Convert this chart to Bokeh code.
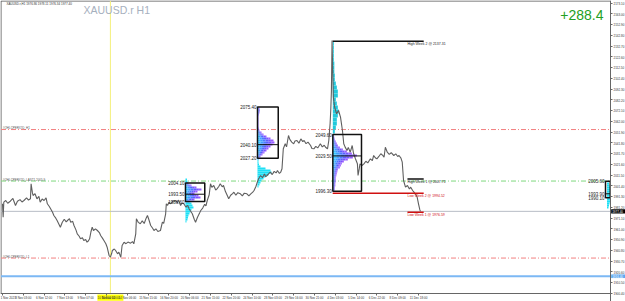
from bokeh.plotting import figure
from bokeh.models import (Range1d, LinearAxis, FixedTicker, Label,
                          ColumnDataSource, NumeralTickFormatter)
from bokeh.embed import file_html
from bokeh.resources import INLINE
from bokeh.core.properties import value

FONT = "Liberation Sans"

# ---------------- data ----------------
bar_index = [0, 1, 2, 5, 8, 12, 16, 20, 23, 27, 30, 33, 37, 40, 43, 44, 46, 47, 50, 53,
             56, 58, 61, 64, 67, 69, 72, 74, 77, 79, 82, 84, 87, 89, 92, 95, 98, 100, 103, 105,
             108, 110, 113, 115, 118, 120, 123, 125, 128, 130, 132, 134, 136, 138, 140, 143, 146, 149, 151, 154,
             156, 159, 161, 164, 166, 168, 169, 172, 174, 177, 179, 182, 184, 187, 190, 193, 197, 200, 202, 205,
             206, 209, 212, 215, 218, 221, 223, 225, 228, 231, 233, 236, 239, 243, 246, 248, 251, 252, 254, 256,
             259, 262, 266, 269, 271, 274, 276, 279, 282, 285, 287, 290, 292, 295, 297, 300, 303, 305, 308, 311,
             313, 315, 318, 320, 322, 325, 328, 330, 333, 335, 338, 340, 343, 346, 348, 351, 354, 356, 359, 362,
             366, 369, 372, 376, 379, 382, 385, 387, 390, 392, 394, 397, 400, 403, 405, 407, 410, 412, 415, 418,
             421, 423, 426, 428, 430, 432, 435, 437, 440, 442, 445, 448, 450, 453, 456, 459, 462, 464, 467, 470,
             474, 476, 479, 482, 485, 489, 492, 495, 497, 500, 502, 504, 505, 506, 507, 508, 509, 511, 514, 517,
             520, 523, 525, 527, 530, 532, 535, 538, 540, 543, 546, 547, 549, 550, 553, 556, 559, 562, 566, 569,
             571, 574, 576, 579, 582, 585, 587, 589, 592, 595, 598, 602, 605, 608, 610, 613, 615, 617, 620, 623,
             626, 628, 631, 633, 636, 638, 640, 642, 643]
close_price = [1984.5, 1971.9, 1986.0, 1987.6, 1985.0, 1986.9, 1989.5, 1982.9, 1986.9, 1988.4, 1986.2, 1987.6, 1990.0, 1988.0, 1989.2, 2003.3, 1995.0, 1992.3, 1994.0, 1989.2,
               1991.5, 1986.0, 1989.0, 1987.6, 1990.0, 1984.5, 1982.0, 1979.8, 1976.5, 1973.5, 1971.0, 1968.8, 1965.0, 1962.5, 1967.2, 1970.0, 1967.5, 1968.8, 1970.5, 1967.2,
               1968.0, 1964.1, 1960.0, 1956.3, 1954.0, 1951.6, 1952.5, 1950.0, 1951.0, 1948.4, 1949.5, 1951.6, 1958.0, 1962.5, 1959.4, 1961.0, 1959.4, 1957.5, 1954.7, 1952.0,
               1950.0, 1947.0, 1943.7, 1935.9, 1934.3, 1938.0, 1940.6, 1942.0, 1940.6, 1937.5, 1939.0, 1934.3, 1945.3, 1948.4, 1947.0, 1948.5, 1947.5, 1949.0, 1946.9, 1956.3,
               1970.4, 1967.0, 1965.7, 1968.5, 1966.0, 1971.0, 1973.5, 1970.0, 1964.1, 1961.5, 1959.4, 1961.0, 1958.5, 1959.4, 1967.2, 1966.0, 1975.1, 1984.5, 1983.0, 1986.0,
               1984.5, 1987.0, 1987.6, 1985.5, 1988.0, 1982.9, 1985.0, 1984.5, 1981.5, 1983.0, 1979.8, 1977.0, 1975.1, 1970.0, 1967.2, 1971.9, 1975.5, 1978.2, 1980.5, 1984.0,
               1982.5, 1987.6, 1993.0, 2003.3, 2000.0, 2001.7, 1997.5, 1998.6, 2001.0, 2003.3, 2000.5, 2001.7, 1996.0, 1992.0, 1989.2, 1992.5, 1994.0, 1995.4, 1992.5, 1995.0,
               1993.9, 1992.0, 1994.5, 1993.9, 1992.0, 1993.9, 1995.5, 1997.0, 2001.0, 2004.8, 2008.0, 2011.1, 2009.0, 2012.5, 2010.0, 2011.1, 2013.0, 2014.2, 2012.0, 2015.0,
               2013.5, 2015.8, 2013.0, 2014.2, 2017.4, 2036.2, 2040.9, 2038.0, 2048.7, 2045.0, 2042.5, 2040.9, 2043.5, 2044.0, 2041.5, 2045.5, 2043.0, 2044.0, 2041.0, 2042.5,
               2039.3, 2036.5, 2036.2, 2038.5, 2037.0, 2040.9, 2038.0, 2039.5, 2037.7, 2036.2, 2044.0, 2060.0, 2072.2, 2090.0, 2138.0, 2110.0, 2084.7, 2075.3, 2069.1, 2072.2,
               2065.9, 2053.4, 2040.9, 2038.0, 2034.6, 2037.5, 2033.0, 2039.3, 2032.0, 2026.8, 2022.1, 2011.1, 2018.0, 2022.1, 2020.5, 2022.1, 2024.5, 2023.0, 2026.8, 2025.0,
               2029.9, 2027.5, 2026.8, 2029.0, 2031.5, 2030.0, 2028.3, 2037.7, 2033.0, 2031.0, 2032.5, 2029.9, 2031.5, 2029.0, 2029.9, 2027.5, 2023.6, 2006.4, 2000.1, 2001.7,
               1998.5, 2000.1, 1997.0, 1995.4, 1993.0, 1990.6, 1984.5, 1979.0, 1977.4]

time_ticks = [0, 32, 64, 96, 128, 160, 192, 224, 256, 288, 320, 352, 384, 416, 448, 480, 512, 544, 576, 608, 640]
time_labels = ["1 Nov 2023", "3 Nov 03:00", "6 Nov 12:00", "7 Nov 13:00", "9 Nov 07:00", "10 Nov 12:00",
               "14 Nov 06:00", "15 Nov 15:00", "16 Nov 20:00", "20 Nov 06:00", "21 Nov 15:00", "22 Nov 20:00",
               "24 Nov 10:00", "28 Nov 03:00", "29 Nov 16:00", "30 Nov 21:00", "4 Dec 03:00", "5 Dec 14:00",
               "6 Dec 22:00", "8 Dec 09:00", "11 Dec 18:00"]
price_ticks = [2173.10, 2163.00, 2152.90, 2142.80, 2132.70, 2122.60, 2112.50, 2102.40, 2092.30, 2082.20,
               2072.10, 2062.00, 2051.90, 2041.80, 2031.70, 2021.60, 2011.50, 2001.40, 1991.30, 1981.20,
               1971.10, 1961.00, 1950.90, 1940.80, 1930.70, 1920.60, 1910.50, 1900.40]

level_prev_high = 2054.3
level_prev_last = 2005.9
level_prev_low = 1933.5
current_price = 1977.40
blue_level = 1916.40
marker_bar = 166
marker_label = "10 Nov 12:00"

high_week2, low_week2 = 2137.31, 1994.52
high_week1, low_week1 = 2007.71, 1976.59
week2_start, week1_start, levels_end = 508, 623, 648

# volume profiles (volumes in relative units)
prof1_left, prof1_top, prof1_step = 281.5, 2007.3, 1.88
prof1_vol = [1.5, 2, 3, 6, 11, 16, 12, 9, 13, 15, 9, 4, 6, 7, 8, 6, 5, 4, 3, 2.5, 2, 1]
box1 = dict(left=281.5, right=311.2, top=2004.10, poc=1993.50, bottom=1986.60)

prof2_left, prof2_top, prof2_step = 392.3, 2074.1, 1.88
prof2_vol = [2, 2.5, 2, 1.5, 1, 1, 1, 1, 1, 1, 1.5, 2, 4, 6, 9, 13, 16, 17, 15, 13,
             11, 9, 7, 5, 3, 1.5, 1, 1, 1.5, 3, 8, 13, 14, 11, 8, 6, 4, 3, 2, 1]
box2 = dict(left=392.3, right=424.2, top=2075.40, poc=2040.10, bottom=2027.20)

prof3_left, prof3_top, prof3_step = 508.2, 2048.7, 1.88
prof3_vol = [1, 1.5, 2, 3, 4, 5, 7, 10, 14, 19, 24, 20, 15, 11, 9, 8, 7, 5, 4.5, 4,
             3.5, 3, 3, 3, 2.5, 2.5, 2, 2]
box3 = dict(left=508.2, right=552.3, top=2049.60, poc=2029.50, bottom=1996.30)

spike_left, spike_top, spike_step = 508.2, 2135.2, 3.76
spike_vol = [1, 1, 1, 1, 1, 1.5, 1.5, 1.5, 2, 2, 3, 4, 5, 5, 3, 4, 5, 6, 5, 4, 4, 3, 2]

prof4_left, prof4_top, prof4_step = 930.0, 2003.6, 1.88
prof4_vol = [2, 2.5, 3, 3.5, 4, 4, 4, 3.5, 3, 3, 2.5, 2, 1.5]
box4 = dict(left=927.7, right=935.0, top=2005.60, poc=1993.90, bottom=1990.10)

# ---------------- layout constants (chart window) ----------------
X_MIN, X_MAX = -3.077, 958.46          # whole canvas in bar units
Y_MIN, Y_MAX = 1892.66, 2175.6         # whole canvas in price units
CHART_LEFT, CHART_RIGHT = -2.31, 935.4  # chart area edges (bars)
CHART_TOP, CHART_BOTTOM = 2175.13, 1900.18
VOL_TO_BARS = 1 / 0.65
GRAD = ["#35c6ff", "#3ea0ff", "#4a7cff", "#5a60ff", "#7656ff", "#995cff"]
CYAN = "#1ee0f5"

# ---------------- figure ----------------
p = figure(width=625, height=301, x_range=Range1d(X_MIN, X_MAX), y_range=Range1d(Y_MIN, Y_MAX),
           output_backend="svg", toolbar_location=None, x_axis_location=None, y_axis_location=None,
           min_border_left=0, min_border_right=0, min_border_top=0, min_border_bottom=0)
p.grid.visible = False
p.outline_line_color = None
p.background_fill_color = "white"
p.border_fill_color = "white"

xaxis = LinearAxis(fixed_location=CHART_BOTTOM, ticker=FixedTicker(ticks=time_ticks),
                   bounds=(CHART_LEFT, CHART_RIGHT),
                   major_label_overrides={t: l for t, l in zip(time_ticks, time_labels)},
                   major_label_text_font_size="3px", major_label_text_font=FONT,
                   major_label_text_align="left", major_label_text_color="#333333",
                   major_tick_out=2, major_tick_in=0, minor_tick_out=0, minor_tick_in=0,
                   major_label_standoff=1, axis_line_color="#666666", major_tick_line_color="#666666")
p.add_layout(xaxis, "below")
yaxis = LinearAxis(fixed_location=CHART_RIGHT, ticker=FixedTicker(ticks=price_ticks),
                   bounds=(Y_MIN, Y_MAX),
                   formatter=NumeralTickFormatter(format="0.00"),
                   major_label_text_font_size="3px", major_label_text_font=FONT,
                   major_label_text_color="#333333",
                   major_tick_out=2, major_tick_in=0, minor_tick_out=0, minor_tick_in=0,
                   major_label_standoff=1, axis_line_color="#666666", major_tick_line_color="#666666")
p.add_layout(yaxis, "right")

# chart border (top / left)
p.segment(x0=[CHART_LEFT, CHART_LEFT], x1=[CHART_RIGHT, CHART_LEFT],
          y0=[CHART_TOP, CHART_TOP], y1=[CHART_TOP, CHART_BOTTOM], line_color="#555555", line_width=1)

# vertical marker and horizontal levels
p.segment(x0=[marker_bar], x1=[marker_bar], y0=[CHART_BOTTOM], y1=[CHART_TOP], line_color="#f4f07a", line_width=1)
for lvl, col in ((level_prev_high, "#f28080"), (level_prev_last, "#7ed87e"), (level_prev_low, "#f28080")):
    p.segment(x0=[CHART_LEFT], x1=[CHART_RIGHT], y0=[lvl], y1=[lvl],
              line_color=col, line_width=1, line_dash="5 2 1 2")
p.segment(x0=[CHART_LEFT], x1=[CHART_RIGHT], y0=[current_price], y1=[current_price],
          line_color="#b8bcc6", line_width=1)
p.segment(x0=[CHART_LEFT], x1=[CHART_RIGHT], y0=[blue_level], y1=[blue_level],
          line_color="#7cb8f4", line_width=2)

# left level labels
p.text(x=[0.5, 0.5, 0.5], y=[level_prev_high, level_prev_last, level_prev_low],
       text=["#OHLCPERIOD_H1", "#OHLCPERIOD_LAST1 2005.9", "#OHLCPERIOD_L1"],
       text_font=value(FONT), text_font_size="3px", text_color="#555555", text_baseline="bottom")


def add_profile(left, top, step, vols, box=None, solid=None):
    rows = dict(l=[], r=[], t=[], b=[], c=[])
    for i, v in enumerate(vols):
        c = top - i * step
        w = v * VOL_TO_BARS
        inside = box is not None and box["bottom"] - 0.5 <= c <= box["top"] + 0.5
        if inside and solid is None:
            n = len(GRAD)
            for k in range(n):
                rows["l"].append(left + w * k / n)
                rows["r"].append(left + w * (k + 1) / n)
                rows["t"].append(c + step / 2)
                rows["b"].append(c - step / 2)
                rows["c"].append(GRAD[k])
        else:
            rows["l"].append(left)
            rows["r"].append(left + w)
            rows["t"].append(c + step / 2)
            rows["b"].append(c - step / 2)
            rows["c"].append(solid or CYAN)
    p.quad(left="l", right="r", top="t", bottom="b", fill_color="c", line_color=None,
           source=ColumnDataSource(rows))


add_profile(prof1_left, prof1_top, prof1_step, prof1_vol, box1)
add_profile(prof2_left, prof2_top, prof2_step, prof2_vol, box2)
add_profile(prof3_left, prof3_top, prof3_step, prof3_vol, box3)
add_profile(spike_left, spike_top, spike_step, spike_vol, None, "#22c9dc")
add_profile(prof4_left, prof4_top, prof4_step, prof4_vol, None, CYAN)

# price line
p.line(bar_index, close_price, line_color="#5f5f5f", line_width=1.1)

# boxes
for bx in (box1, box2, box3, box4):
    p.quad(left=[bx["left"]], right=[bx["right"]], top=[bx["top"]], bottom=[bx["bottom"]],
           fill_alpha=0, line_color="#111111", line_width=1.5)
    p.segment(x0=[bx["left"]], x1=[bx["right"]], y0=[bx["poc"]], y1=[bx["poc"]],
              line_color="#111111", line_width=1)
    p.text(x=[bx["left"] - 1.5] * 3, y=[bx["top"], bx["poc"], bx["bottom"]],
           text=["%.2f" % bx["top"], "%.2f" % bx["poc"], "%.2f" % bx["bottom"]],
           text_font=value(FONT), text_font_size="4.5px", text_color="#222222",
           text_align="right", text_baseline="middle")

# weekly high / low lines
p.segment(x0=[week2_start, week1_start], x1=[levels_end, levels_end], y0=[high_week2, high_week1],
          y1=[high_week2, high_week1], line_color="#111111", line_width=1.5)
p.segment(x0=[week2_start, week1_start], x1=[levels_end, levels_end], y0=[low_week2, low_week1],
          y1=[low_week2, low_week1], line_color="#d01010", line_width=1.5)
p.text(x=[week1_start] * 2, y=[high_week2, high_week1],
       text=["High Week 2 @ %.2f" % high_week2, "High Week 1 @ %.2f" % high_week1],
       text_font=value(FONT), text_font_size="3.5px", text_color="#222222", text_baseline="top",
       y_offset=1)
p.text(x=[week1_start] * 2, y=[low_week2, low_week1],
       text=["Low Week 2 @ %.2f" % low_week2, "Low Week 1 @ %.2f" % low_week1],
       text_font=value(FONT), text_font_size="3.5px", text_color="#d01010", text_baseline="top",
       y_offset=1)

# highlighted axis labels (price boxes on the right scale, time box below)
p.quad(left=[CHART_RIGHT + 1.0, CHART_RIGHT + 1.0], right=[X_MAX, X_MAX],
       top=[current_price + 2.0, blue_level + 1.7], bottom=[current_price - 2.0, blue_level - 1.7],
       fill_color=["#000000", "#5ea8f0"], line_color=None)
p.text(x=[CHART_RIGHT + 2.5, CHART_RIGHT + 2.5], y=[current_price, blue_level],
       text=["%.2f" % current_price, "%.2f" % blue_level],
       text_font=value(FONT), text_font_size="3px", text_color="white", text_baseline="middle")
p.quad(left=[marker_bar - 20], right=[marker_bar + 20], top=[CHART_BOTTOM - 0.9], bottom=[CHART_BOTTOM - 6.8],
       fill_color="#ffff00", line_color=None)
p.text(x=[marker_bar], y=[CHART_BOTTOM - 3.9], text=[marker_label],
       text_font=value(FONT), text_font_size="3px", text_color="#333333",
       text_align="center", text_baseline="middle")

# titles (screen units: origin bottom-left of canvas)
p.add_layout(Label(x=83, y=291.5, x_units="screen", y_units="screen", text="XAUUSD.r H1",
                   text_font=FONT, text_font_size="10.5px", text_color="#a6b0be", text_baseline="middle"))
p.add_layout(Label(x=603, y=286.5, x_units="screen", y_units="screen", text="+288.4",
                   text_font=FONT, text_font_size="14px", text_color="#22a022",
                   text_align="right", text_baseline="middle"))
p.add_layout(Label(x=6, y=297.5, x_units="screen", y_units="screen",
                   text="XAUUSD.r,H1  1976.86 1978.11 1976.34 1977.40",
                   text_font=FONT, text_font_size="3px", text_color="#333333", text_baseline="middle"))

open("out.html", "w").write(file_html(p, INLINE))
